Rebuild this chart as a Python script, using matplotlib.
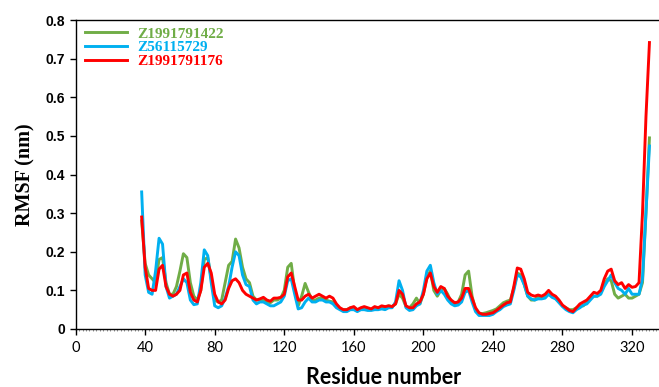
import numpy as np
import matplotlib.pyplot as plt
from matplotlib.ticker import MultipleLocator

residue = np.arange(38, 331, 2)

z1422 = [0.28, 0.17, 0.14, 0.13, 0.12, 0.18, 0.185, 0.12, 0.09, 0.09,
         0.11, 0.15, 0.195, 0.185, 0.12, 0.085, 0.075, 0.1, 0.18, 0.185,
         0.13, 0.075, 0.07, 0.075, 0.12, 0.165, 0.175, 0.233, 0.21, 0.16,
         0.13, 0.12, 0.085, 0.075, 0.075, 0.075, 0.07, 0.068, 0.075, 0.075,
         0.08, 0.1, 0.16, 0.17, 0.1, 0.06, 0.085, 0.118, 0.095, 0.075,
         0.075, 0.08, 0.08, 0.075, 0.072, 0.07, 0.06, 0.052, 0.05, 0.05,
         0.055, 0.055, 0.05, 0.052, 0.055, 0.052, 0.05, 0.055, 0.055, 0.055,
         0.055, 0.06, 0.058, 0.065, 0.09, 0.08, 0.058, 0.055, 0.065, 0.08,
         0.065, 0.09, 0.135, 0.15, 0.1, 0.085, 0.1, 0.105, 0.09, 0.07,
         0.065, 0.07, 0.09, 0.14, 0.15, 0.085, 0.05, 0.04, 0.04, 0.042,
         0.045, 0.048, 0.052, 0.06, 0.068, 0.072, 0.075, 0.105, 0.145, 0.14,
         0.115, 0.085, 0.075, 0.075, 0.085, 0.08, 0.085, 0.09, 0.085, 0.08,
         0.07, 0.06, 0.055, 0.05, 0.05, 0.055, 0.06, 0.06, 0.07, 0.08,
         0.085, 0.085, 0.095, 0.115, 0.13, 0.125, 0.09, 0.08, 0.085, 0.09,
         0.08, 0.08, 0.085, 0.09, 0.12, 0.3, 0.495]

z5611 = [0.355, 0.14, 0.095, 0.09, 0.15, 0.235, 0.22, 0.11, 0.08, 0.085,
         0.09, 0.11, 0.13, 0.12, 0.075, 0.063, 0.065, 0.12, 0.205, 0.19,
         0.12, 0.06, 0.055, 0.06, 0.08, 0.11, 0.16, 0.2, 0.19, 0.14,
         0.115, 0.11, 0.075, 0.065, 0.07, 0.07, 0.065, 0.06, 0.06, 0.065,
         0.07, 0.085, 0.125, 0.13, 0.09, 0.052, 0.055, 0.07, 0.08, 0.07,
         0.07, 0.075, 0.075, 0.07, 0.07, 0.065, 0.055, 0.05, 0.045, 0.045,
         0.05, 0.05, 0.045, 0.05, 0.05, 0.048, 0.048, 0.05, 0.05, 0.052,
         0.05, 0.055, 0.055, 0.07, 0.125, 0.1, 0.055, 0.048, 0.05, 0.06,
         0.065, 0.1, 0.15, 0.165, 0.12, 0.09, 0.1, 0.09, 0.075, 0.065,
         0.06, 0.062, 0.07, 0.095, 0.1, 0.07, 0.045, 0.035, 0.035, 0.035,
         0.035, 0.038, 0.045, 0.05, 0.058, 0.062, 0.065, 0.1, 0.14, 0.135,
         0.115, 0.085, 0.078, 0.075, 0.078, 0.078, 0.08, 0.09, 0.082, 0.078,
         0.068, 0.058, 0.05, 0.045, 0.042, 0.05, 0.055, 0.062, 0.065, 0.075,
         0.085, 0.085, 0.09, 0.11, 0.125, 0.14, 0.12, 0.105, 0.1, 0.09,
         0.105, 0.09, 0.09, 0.09, 0.13, 0.3, 0.474]

z1176 = [0.29, 0.16, 0.105, 0.1, 0.1, 0.155, 0.165, 0.11, 0.09, 0.085,
         0.09, 0.1, 0.14, 0.145, 0.095, 0.075, 0.07, 0.1, 0.16, 0.17,
         0.145, 0.09, 0.07, 0.065, 0.075, 0.105, 0.125, 0.13, 0.12, 0.1,
         0.09, 0.085, 0.08, 0.075, 0.078, 0.082, 0.075, 0.072, 0.08, 0.08,
         0.082, 0.09, 0.135, 0.145, 0.11, 0.075, 0.075, 0.085, 0.09, 0.08,
         0.085, 0.09, 0.085, 0.08, 0.085, 0.08, 0.065, 0.055, 0.05, 0.05,
         0.055, 0.058, 0.05, 0.055, 0.058, 0.055, 0.052, 0.058, 0.055, 0.06,
         0.058, 0.06, 0.058, 0.065, 0.1, 0.09, 0.06, 0.055, 0.055, 0.065,
         0.07, 0.09, 0.13, 0.145, 0.11, 0.095, 0.11, 0.105, 0.085, 0.075,
         0.068, 0.07, 0.08, 0.105, 0.105, 0.08, 0.055, 0.042, 0.038, 0.038,
         0.04, 0.042, 0.048, 0.055, 0.062, 0.068, 0.07, 0.11, 0.158, 0.155,
         0.13, 0.095, 0.088, 0.085, 0.088, 0.085, 0.09, 0.1, 0.09, 0.085,
         0.075, 0.062, 0.055, 0.048, 0.045, 0.055, 0.065, 0.07, 0.075, 0.085,
         0.095, 0.092, 0.1, 0.13, 0.15, 0.155, 0.125, 0.115, 0.12, 0.105,
         0.115, 0.108, 0.11, 0.12, 0.3, 0.55, 0.742]

names = ['Z1991791422', 'Z56115729', 'Z1991791176']
colors = ['#70AD47', '#00B0F0', '#FF0000']
yticks = [0, 0.1, 0.2, 0.3, 0.4, 0.5, 0.6, 0.7, 0.8]
ylabels = ['0', '0.1', '0.2', '0.3', '0.4', '0.5', '0.6', '0.7', '0.8']
xticks = [0, 40, 80, 120, 160, 200, 240, 280, 320]

fig = plt.figure(figsize=(6.59, 3.87), dpi=100)
ax = fig.add_axes([0.1147, 0.1499, 0.884, 0.798])

for vals, c, n in zip([z1422, z5611, z1176], colors, names):
    ax.plot(residue, vals, color=c, lw=2.1, label=n, solid_joinstyle='round')

ax.set_xlim(0, 335)
ax.set_ylim(0, 0.8)
ax.set_xticks(xticks)
ax.set_xticklabels([str(v) for v in xticks], family='Lato', fontsize=10.5)
ax.xaxis.set_minor_locator(MultipleLocator(2))
ax.set_yticks(yticks)
ax.set_yticklabels(ylabels, family='Liberation Sans', fontweight='bold', fontsize=10)
ax.spines['right'].set_visible(False)
for s in ['left', 'bottom', 'top']:
    ax.spines[s].set_linewidth(1.0)
    ax.spines[s].set_color('black')

ax.tick_params(axis='x', which='major', length=4, width=1, pad=5)
ax.tick_params(axis='x', which='minor', length=1.5, width=0.5, color='#666666')
ax.tick_params(axis='y', length=4, width=1)

ax.set_xlabel('Residue number', family='Lato', fontweight='bold', fontsize=15.5)
ax.xaxis.set_label_coords(0.528, -0.124)
ax.set_ylabel('RMSF (nm)', family='Liberation Serif', fontweight='bold', fontsize=14.5, labelpad=7)

leg = ax.legend(loc='upper left', frameon=False, prop={'family': 'Liberation Serif', 'weight': 'bold', 'size': 11},
                handlelength=2.75, handletextpad=0.65, labelspacing=0.0, borderaxespad=0.05,
                bbox_to_anchor=(0.005, 1.0))
for t, c in zip(leg.get_texts(), colors):
    t.set_color(c)

plt.savefig('out.png', dpi=100)
